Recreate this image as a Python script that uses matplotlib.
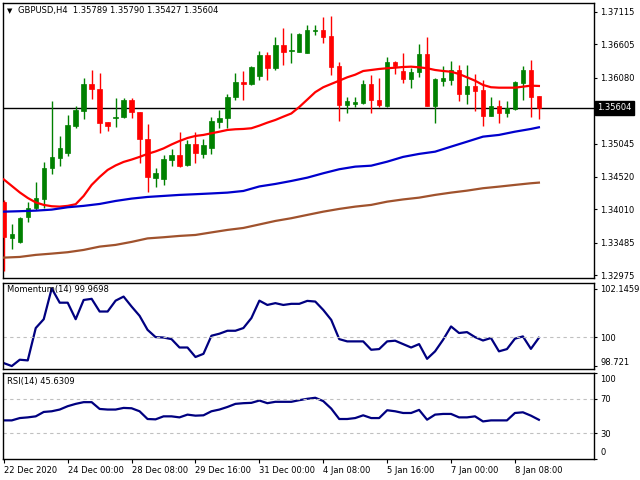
import matplotlib
matplotlib.use('Agg')
import matplotlib.pyplot as plt
import matplotlib.transforms as mtransforms

plt.rcParams['font.family'] = ['DejaVu Sans']
plt.rcParams['font.size'] = 6

# GBPUSD H4 candles
opens = [1.34130, 1.33567, 1.33504, 1.33887, 1.34029, 1.34175, 1.34657, 1.34823, 1.34892, 1.35325,
         1.35561, 1.35976, 1.35897, 1.35384, 1.35451, 1.35457, 1.35729, 1.35541, 1.35117, 1.34509,
         1.34489, 1.34787, 1.34865, 1.34713, 1.35038, 1.34886, 1.34971, 1.35388, 1.35442, 1.35771,
         1.36016, 1.35976, 1.36106, 1.36436, 1.36236, 1.36592, 1.36498, 1.36487, 1.36472, 1.36820,
         1.36828, 1.36734, 1.36263, 1.35651, 1.35666, 1.35687, 1.35980, 1.35729, 1.35635, 1.36330,
         1.36189, 1.36059, 1.36164, 1.36451, 1.35640, 1.36032, 1.36043, 1.36200, 1.35823, 1.35949,
         1.35886, 1.35483, 1.35635, 1.35530, 1.35588, 1.36001, 1.36200, 1.35789]
highs = [1.34160, 1.33782, 1.33892, 1.34132, 1.34446, 1.34751, 1.35718, 1.35164, 1.35494, 1.35635,
         1.36070, 1.36200, 1.36158, 1.35384, 1.35756, 1.35756, 1.35765, 1.35541, 1.35352, 1.34657,
         1.34865, 1.34960, 1.35222, 1.35101, 1.35222, 1.35112, 1.35457, 1.35572, 1.35823, 1.36148,
         1.36184, 1.36268, 1.36503, 1.36487, 1.36713, 1.36855, 1.36776, 1.36776, 1.36907, 1.36907,
         1.37027, 1.37053, 1.36330, 1.35781, 1.35781, 1.36043, 1.36122, 1.36070, 1.36409, 1.36346,
         1.36462, 1.36227, 1.36608, 1.36723, 1.36070, 1.36263, 1.36341, 1.36279, 1.36279, 1.36137,
         1.36043, 1.35771, 1.35729, 1.35718, 1.36032, 1.36263, 1.36357, 1.35790]
lows = [1.33050, 1.33385, 1.33484, 1.33818, 1.34002, 1.34029, 1.34567, 1.34697, 1.34855, 1.35285,
        1.35426, 1.35740, 1.35216, 1.35247, 1.35300, 1.35442, 1.35442, 1.34735, 1.34289, 1.34368,
        1.34394, 1.34693, 1.34682, 1.34693, 1.34735, 1.34814, 1.34881, 1.35285, 1.35285, 1.35729,
        1.35729, 1.35964, 1.36043, 1.36043, 1.36200, 1.36279, 1.36305, 1.36478, 1.36462, 1.36749,
        1.36629, 1.36122, 1.35404, 1.35520, 1.35624, 1.35666, 1.35530, 1.35619, 1.35614, 1.36137,
        1.35991, 1.35913, 1.36095, 1.35640, 1.35373, 1.35949, 1.35964, 1.35713, 1.35666, 1.35561,
        1.35321, 1.35483, 1.35373, 1.35467, 1.35572, 1.35729, 1.35467, 1.35427]
closes = [1.33573, 1.33620, 1.33872, 1.34029, 1.34186, 1.34657, 1.34834, 1.34980, 1.35332, 1.35572,
          1.35980, 1.35897, 1.35373, 1.35321, 1.35467, 1.35729, 1.35536, 1.35112, 1.34515, 1.34588,
          1.34803, 1.34865, 1.34697, 1.35038, 1.34892, 1.35022, 1.35399, 1.35451, 1.35781, 1.36016,
          1.35976, 1.36252, 1.36436, 1.36236, 1.36592, 1.36487, 1.36514, 1.36765, 1.36828, 1.36828,
          1.36723, 1.36252, 1.35651, 1.35713, 1.35698, 1.35980, 1.35729, 1.35651, 1.36326, 1.36263,
          1.36059, 1.36173, 1.36451, 1.35640, 1.36054, 1.36079, 1.36200, 1.35823, 1.35949, 1.35875,
          1.35483, 1.35640, 1.35530, 1.35599, 1.36016, 1.36200, 1.35781, 1.35604]

# moving averages
ma_red = [1.34481, 1.34379, 1.34277, 1.34190, 1.34120, 1.34081, 1.34060, 1.34054, 1.34066, 1.34092,
          1.34222, 1.34395, 1.34520, 1.34630, 1.34701, 1.34756, 1.34793, 1.34835, 1.34882, 1.34921,
          1.34968, 1.35030, 1.35085, 1.35132, 1.35164, 1.35180, 1.35206, 1.35231, 1.35258, 1.35269,
          1.35274, 1.35285, 1.35326, 1.35373, 1.35415, 1.35467, 1.35517, 1.35619, 1.35735, 1.35852,
          1.35929, 1.35981, 1.36032, 1.36085, 1.36126, 1.36184, 1.36200, 1.36216, 1.36227, 1.36236,
          1.36247, 1.36252, 1.36242, 1.36227, 1.36200, 1.36184, 1.36173, 1.36137, 1.36085, 1.36032,
          1.35965, 1.35929, 1.35922, 1.35922, 1.35922, 1.35938, 1.35954, 1.35949]
ma_idx = [0, 2, 4, 6, 8, 10, 12, 14, 16, 18, 20, 22, 24, 26, 28, 30, 32, 34,
          36, 38, 40, 42, 44, 46, 48, 50, 52, 54, 56, 58, 60, 62, 64, 66, 67]
ma_blue = [1.33975, 1.33982, 1.33991, 1.34007, 1.34044, 1.34066, 1.34096, 1.34143, 1.34180, 1.34206,
           1.34222, 1.34238, 1.34249, 1.34261, 1.34274, 1.34300, 1.34371, 1.34410, 1.34457, 1.34509,
           1.34578, 1.34641, 1.34682, 1.34697, 1.34760, 1.34835, 1.34882, 1.34917, 1.34996, 1.35074,
           1.35153, 1.35180, 1.35231, 1.35274, 1.35300]
ma_brown = [1.33253, 1.33264, 1.33296, 1.33316, 1.33338, 1.33374, 1.33426, 1.33453, 1.33500, 1.33555,
            1.33573, 1.33594, 1.33609, 1.33649, 1.33688, 1.33719, 1.33774, 1.33829, 1.33872, 1.33924,
            1.33975, 1.34018, 1.34054, 1.34081, 1.34132, 1.34167, 1.34195, 1.34238, 1.34274, 1.34305,
            1.34343, 1.34368, 1.34395, 1.34421, 1.34431]

momentum = [98.85, 98.72, 99.00, 98.97, 100.40, 100.79, 102.15, 101.52, 101.52, 100.79,
            101.64, 101.69, 101.13, 101.13, 101.61, 101.79, 101.35, 100.94, 100.32, 100.00,
            99.98, 99.91, 99.54, 99.54, 99.12, 99.26, 100.06, 100.15, 100.28, 100.28,
            100.40, 100.84, 101.61, 101.42, 101.50, 101.42, 101.47, 101.47, 101.60, 101.57,
            101.20, 100.76, 99.91, 99.81, 99.81, 99.81, 99.44, 99.47, 99.81, 99.84,
            99.69, 99.54, 99.69, 99.04, 99.37, 99.88, 100.47, 100.18, 100.22, 100.00,
            99.85, 99.96, 99.37, 99.47, 99.93, 100.03, 99.48, 99.97]
rsi = [44.9, 44.9, 47.6, 48.4, 49.6, 54.7, 55.5, 57.5, 61.4, 64.1,
       66.1, 66.1, 58.2, 57.5, 57.5, 59.4, 59.0, 55.5, 46.5, 46.1,
       49.6, 49.6, 48.4, 51.6, 50.4, 50.8, 55.5, 57.5, 60.5, 64.1,
       64.9, 65.3, 68.0, 64.9, 66.5, 66.5, 66.5, 68.4, 70.0, 71.2,
       67.3, 58.6, 46.5, 46.5, 47.6, 50.8, 47.6, 47.6, 56.7, 55.5,
       53.5, 53.5, 57.1, 45.7, 51.6, 52.4, 52.4, 48.4, 48.4, 49.6,
       43.7, 44.9, 44.9, 44.9, 53.5, 54.3, 50.4, 45.6]

price_ticks = [1.37115, 1.36605, 1.36080, 1.35045, 1.34520, 1.34010, 1.33485, 1.32975]
last_price = 1.35604
date_ticks = [0, 8, 16, 24, 32, 40, 48, 56, 64]
date_labels = ['22 Dec 2020', '24 Dec 00:00', '28 Dec 08:00', '29 Dec 16:00', '31 Dec 00:00',
               '4 Jan 08:00', '5 Jan 16:00', '7 Jan 00:00', '8 Jan 08:00']

W, H = 640, 480
fig = plt.figure(figsize=(6.4, 4.8), dpi=100)


def px_rect(x0, y0, x1, y1):
    return [x0 / W, 1 - y1 / H, (x1 - x0) / W, (y1 - y0) / H]


ax = fig.add_axes(px_rect(3, 3, 594, 278))
ax_m = fig.add_axes(px_rect(3, 283, 594, 369), sharex=ax)
ax_r = fig.add_axes(px_rect(3, 373, 594, 459), sharex=ax)

xs = list(range(len(opens)))
for i in xs:
    up = closes[i] >= opens[i]
    col = '#008000' if up else '#ff0000'
    ax.vlines(i, lows[i], highs[i], color=col, lw=1, zorder=3)
    lo = min(opens[i], closes[i])
    h = max(abs(closes[i] - opens[i]), 0.00012)
    ax.bar(i, h, bottom=lo, width=0.55, color=col, edgecolor=col, lw=0.5, zorder=4)

ax.plot(xs, ma_red, color='#ff0000', lw=1.6, zorder=5)
ax.plot(ma_idx, ma_blue, color='#0000cd', lw=1.6, zorder=5)
ax.plot(ma_idx, ma_brown, color='#a0522d', lw=1.6, zorder=5)
ax.axhline(last_price, color='black', lw=1, zorder=2)

ax.set_xlim(-0.1, 73.9)
ax.set_ylim(1.32933, 1.37252)
ax.set_yticks(price_ticks)
ax.set_yticklabels(['%.5f' % p for p in price_ticks])

trans = mtransforms.blended_transform_factory(ax.transAxes, ax.transData)
ax.text(1.006, last_price, '%.5f' % last_price, transform=trans, color='white',
        va='center', ha='left', fontsize=6, clip_on=False,
        bbox=dict(boxstyle='square,pad=0.25', fc='black', ec='black'))

fig.text(7 / W, 1 - 11 / H, '\u25bc', fontsize=5, va='center', ha='left')
fig.text(18 / W, 1 - 11 / H, 'GBPUSD,H4  1.35789 1.35790 1.35427 1.35604',
         fontsize=6, va='center', ha='left')

lab_x = 1 + 6.5 / 591  # where the right-side labels start

# momentum
ax_m.plot(xs, momentum, color='#000080', lw=1.6)
ax_m.axhline(100, color='#c0c0c0', lw=0.8, ls=(0, (3, 3)))
ax_m.set_ylim(98.59, 102.39)
ax_m.set_yticks([102.1459, 100, 98.721])
ax_m.set_yticklabels(['102.1459', '100', ''])
ax_m.text(lab_x, 0.08, '98.721', transform=ax_m.transAxes, fontsize=6,
          va='center', ha='left', clip_on=False)
ax_m.text(4 / 591, 0.92, 'Momentum(14) 99.9698', transform=ax_m.transAxes,
          fontsize=6, va='center', ha='left')

# RSI
ax_r.plot(xs, rsi, color='#000080', lw=1.6)
for lvl in (70, 30):
    ax_r.axhline(lvl, color='#c0c0c0', lw=0.8, ls=(0, (3, 3)))
ax_r.set_ylim(0, 100)
ax_r.set_yticks([100, 70, 30, 0])
ax_r.set_yticklabels(['', '70', '30', ''])
ax_r.text(lab_x, 0.92, '100', transform=ax_r.transAxes, fontsize=6,
          va='center', ha='left', clip_on=False)
ax_r.text(lab_x, 0.07, '0', transform=ax_r.transAxes, fontsize=6,
          va='center', ha='left', clip_on=False)
ax_r.text(4 / 591, 0.90, 'RSI(14) 45.6309', transform=ax_r.transAxes,
          fontsize=6, va='center', ha='left')

for a in (ax, ax_m, ax_r):
    a.yaxis.tick_right()
    a.tick_params(axis='y', length=2.5, width=0.8, pad=2, labelsize=6)
    for s in a.spines.values():
        s.set_color('black')
        s.set_linewidth(1)
    a.set_facecolor('white')

ax.tick_params(axis='x', bottom=False, labelbottom=False)
ax_m.tick_params(axis='x', bottom=False, labelbottom=False)
ax_r.set_xticks(date_ticks)
ax_r.set_xticklabels(date_labels)
ax_r.tick_params(axis='x', length=3, width=0.8, pad=2, labelsize=6)
for lbl in ax_r.get_xticklabels():
    lbl.set_ha('left')

fig.savefig('out.png', dpi=100, facecolor='white')
